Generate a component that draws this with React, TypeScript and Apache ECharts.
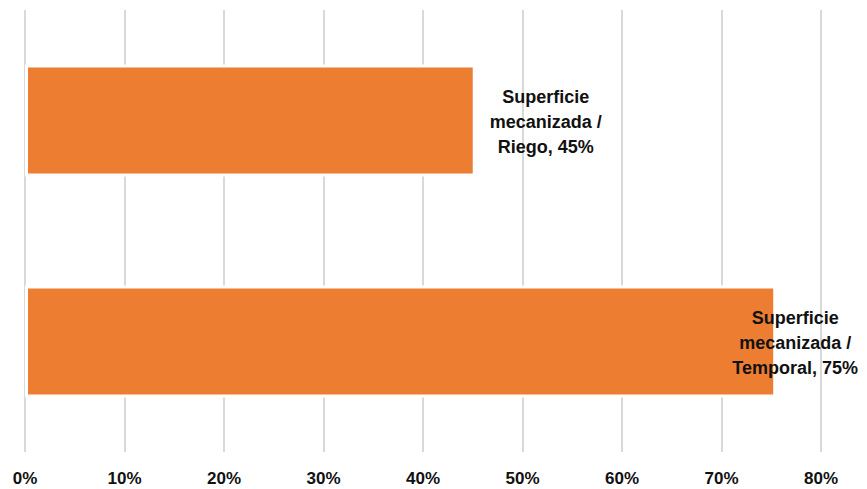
import React, { useEffect, useRef } from "react";
import * as echarts from "echarts";

const categories = [
  "Superficie mecanizada / Temporal",
  "Superficie mecanizada / Riego",
];
const values = [75.5, 45.3];
const labelLines = [
  ["Superficie", "mecanizada /", "Temporal, 75%"],
  ["Superficie", "mecanizada /", "Riego, 45%"],
];
const labelOffsets = [19, 70];
const xTicks = [0, 10, 20, 30, 40, 50, 60, 70, 80];

export default function App() {
  const ref = useRef<HTMLDivElement>(null);
  useEffect(() => {
    if (!ref.current) return;
    const chart = echarts.init(ref.current, null, { renderer: "svg" });
    const font = "'Liberation Sans', Arial, sans-serif";
    chart.setOption({
      animation: false,
      backgroundColor: "#ffffff",
      grid: { left: 25, right: 46, top: 10, bottom: 37, containLabel: false },
      xAxis: {
        type: "value",
        min: xTicks[0],
        max: xTicks[xTicks.length - 1],
        interval: 10,
        axisLine: { show: false },
        axisTick: { show: false },
        splitLine: { show: true, lineStyle: { color: "#D9D9D9", width: 2 } },
        axisLabel: {
          formatter: (v: number) => `${v}%`,
          color: "#111111",
          fontFamily: font,
          fontWeight: "bold",
          fontSize: 17,
          margin: 18,
        },
      },
      yAxis: {
        type: "category",
        data: categories,
        axisLine: { show: false },
        axisTick: { show: false },
        axisLabel: { show: false },
        splitLine: { show: false },
      },
      series: [
        {
          type: "bar",
          barWidth: 112,
          data: values.map((v, i) => ({
            value: v,
            label: {
              show: true,
              position: ["100%", "50%"],
              offset: [labelOffsets[i], 1],
              align: "center",
              verticalAlign: "middle",
              formatter: () => labelLines[i].join("\n"),
            },
          })),
          itemStyle: {
            color: "#ED7D31",
            borderColor: "#ffffff",
            borderWidth: 3,
          },
          label: {
            color: "#111111",
            fontFamily: font,
            fontWeight: "bold",
            fontSize: 18,
            lineHeight: 25,
          },
        },
      ],
    });
    return () => chart.dispose();
  }, []);
  return (
    <div
      ref={ref}
      style={{ position: "fixed", left: 0, top: 0, width: 867, height: 489 }}
    />
  );
}
